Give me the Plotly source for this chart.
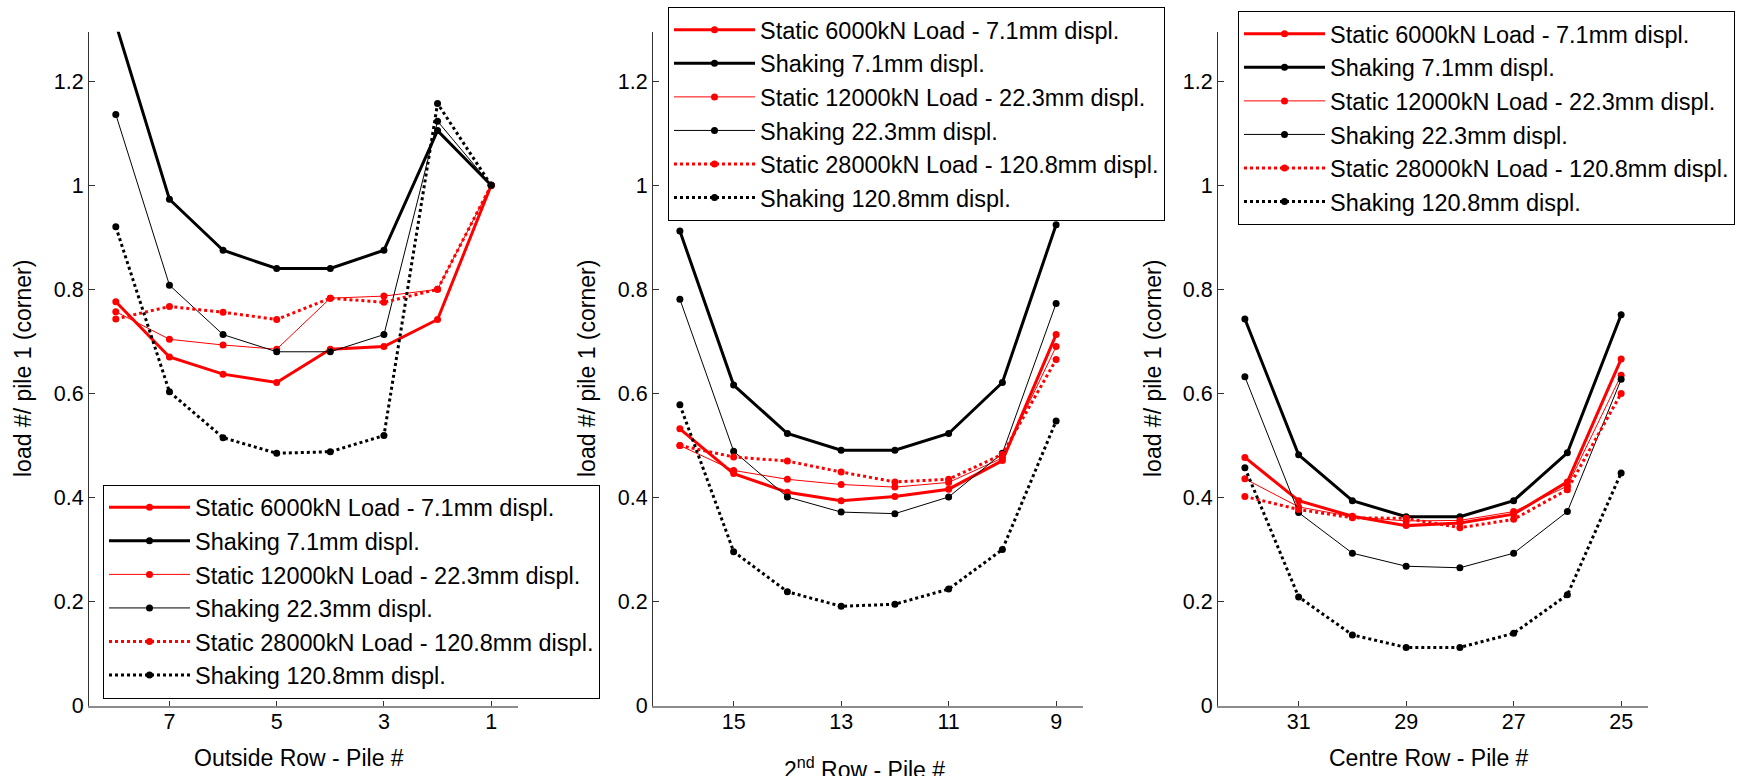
import plotly.graph_objects as go

# ---------------- data ----------------
outside_piles = [8, 7, 6, 5, 4, 3, 2, 1]
second_piles = [16, 15, 14, 13, 12, 11, 10, 9]
centre_piles = [32, 31, 30, 29, 28, 27, 26, 25]

outside_ticks = [7, 5, 3, 1]
second_ticks = [15, 13, 11, 9]
centre_ticks = [31, 29, 27, 25]

y_tickvals = [0, 0.2, 0.4, 0.6, 0.8, 1.0, 1.2]
y_ticktext = ["0", "0.2", "0.4", "0.6", "0.8", "1", "1.2"]

series_names = [
    "Static 6000kN Load - 7.1mm displ.",
    "Shaking 7.1mm displ.",
    "Static 12000kN Load - 22.3mm displ.",
    "Shaking 22.3mm displ.",
    "Static 28000kN Load - 120.8mm displ.",
    "Shaking 120.8mm displ.",
]

# Outside row
outside_static_6000 = [0.776, 0.670, 0.637, 0.621, 0.685, 0.690, 0.742, 1.0]
outside_shaking_7 = [1.31, 0.973, 0.875, 0.840, 0.840, 0.875, 1.105, 1.0]
outside_static_12000 = [0.757, 0.704, 0.693, 0.685, 0.783, 0.787, 0.800, 1.0]
outside_shaking_22 = [1.136, 0.808, 0.713, 0.680, 0.680, 0.713, 1.123, 1.0]
outside_static_28000 = [0.743, 0.767, 0.756, 0.742, 0.783, 0.775, 0.800, 1.0]
outside_shaking_120 = [0.920, 0.603, 0.515, 0.485, 0.488, 0.519, 1.157, 1.0]

# 2nd row
second_static_6000 = [0.532, 0.446, 0.410, 0.394, 0.402, 0.416, 0.471, 0.713]
second_shaking_7 = [0.912, 0.616, 0.523, 0.491, 0.491, 0.523, 0.621, 0.924]
second_static_12000 = [0.500, 0.452, 0.435, 0.425, 0.420, 0.429, 0.476, 0.690]
second_shaking_22 = [0.781, 0.489, 0.401, 0.372, 0.369, 0.401, 0.485, 0.773]
second_static_28000 = [0.500, 0.478, 0.470, 0.449, 0.430, 0.435, 0.483, 0.665]
second_shaking_120 = [0.578, 0.296, 0.219, 0.191, 0.195, 0.224, 0.300, 0.547]

# Centre row
centre_static_6000 = [0.477, 0.394, 0.364, 0.346, 0.351, 0.368, 0.430, 0.666]
centre_shaking_7 = [0.743, 0.482, 0.394, 0.363, 0.363, 0.394, 0.486, 0.751]
centre_static_12000 = [0.436, 0.382, 0.363, 0.355, 0.356, 0.373, 0.422, 0.635]
centre_shaking_22 = [0.632, 0.371, 0.293, 0.268, 0.265, 0.293, 0.373, 0.627]
centre_static_28000 = [0.402, 0.377, 0.361, 0.360, 0.342, 0.358, 0.415, 0.600]
centre_shaking_120 = [0.457, 0.209, 0.136, 0.112, 0.112, 0.139, 0.213, 0.447]

panels = [
    (outside_piles, [outside_static_6000, outside_shaking_7, outside_static_12000,
                     outside_shaking_22, outside_static_28000, outside_shaking_120]),
    (second_piles, [second_static_6000, second_shaking_7, second_static_12000,
                    second_shaking_22, second_static_28000, second_shaking_120]),
    (centre_piles, [centre_static_6000, centre_shaking_7, centre_static_12000,
                    centre_shaking_22, centre_static_28000, centre_shaking_120]),
]

# ---------------- styles ----------------
RED = "#ff0000"
BLACK = "#000000"
styles = [
    dict(color=RED, width=3, dash="solid"),
    dict(color=BLACK, width=3, dash="solid"),
    dict(color=RED, width=1, dash="solid"),
    dict(color=BLACK, width=1, dash="solid"),
    dict(color=RED, width=3, dash="dot"),
    dict(color=BLACK, width=3, dash="dot"),
]

FONT = "Liberation Sans, Arial, sans-serif"
W, H = 1740, 776

fig = go.Figure()
legend_ids = ["legend", "legend2", "legend3"]
for p, (piles, series) in enumerate(panels):
    ax = "" if p == 0 else str(p + 1)
    for s, (vals, st) in enumerate(zip(series, styles)):
        fig.add_trace(go.Scatter(
            x=piles, y=vals, mode="lines+markers", name=series_names[s],
            line=dict(color=st["color"], width=st["width"], dash=st["dash"]),
            marker=dict(size=7, color=st["color"]),
            xaxis="x" + ax, yaxis="y" + ax, legend=legend_ids[p],
            cliponaxis=True,
        ))

# plot-area pixel boxes
x_px = [(89, 518), (653, 1083), (1218, 1648)]
y_top, y_bot = 31.7, 705.7
ranges = [[8.5, 0.5], [16.5, 8.5], [32.5, 24.5]]
xticks = [outside_ticks, second_ticks, centre_ticks]

layout = dict(
    width=W, height=H,
    margin=dict(l=0, r=0, t=0, b=0, autoexpand=False),
    paper_bgcolor="white", plot_bgcolor="white",
    font=dict(family=FONT, size=22, color="black"),
    showlegend=True,
)
for p in range(3):
    ax = "" if p == 0 else str(p + 1)
    layout["xaxis" + ax] = dict(
        domain=[x_px[p][0] / W, x_px[p][1] / W], range=ranges[p],
        anchor="y" + ax, tickmode="array", tickvals=xticks[p],
        ticks="inside", ticklen=5, tickcolor="#333333", tickwidth=1,
        showline=True, linecolor="#8c8c8c", linewidth=2,
        showgrid=False, zeroline=False, automargin=False,
        ticklabelstandoff=-5,
        tickfont=dict(family=FONT, size=21.5, color="black"),
    )
    layout["yaxis" + ax] = dict(
        domain=[1 - y_bot / H, 1 - y_top / H], range=[0, 1.295],
        anchor="x" + ax, tickmode="array", tickvals=y_tickvals, ticktext=y_ticktext,
        ticks="inside", ticklen=6, tickcolor="#333333", tickwidth=1,
        showline=True, linecolor="#333333", linewidth=1,
        showgrid=False, zeroline=False, automargin=False,
        tickfont=dict(family=FONT, size=21.5, color="black"),
    )

legend_pos = [(103, 484.5), (668, 7), (1238, 11)]
for i, lid in enumerate(legend_ids):
    layout[lid] = dict(
        x=legend_pos[i][0] / W, y=1 - legend_pos[i][1] / H,
        xanchor="left", yanchor="top",
        bgcolor="white", bordercolor="black", borderwidth=1,
        font=dict(family=FONT, size=23.5, color="black"),
        itemwidth=81, traceorder="normal",
    )

annotations = []
ylabel_x = [23, 587, 1153]
for xp in ylabel_x:
    annotations.append(dict(
        text="load #/ pile 1 (corner)", textangle=-90,
        x=xp / W, y=1 - 369 / H, xref="paper", yref="paper",
        xanchor="center", yanchor="middle", showarrow=False,
        font=dict(family=FONT, size=23, color="black"),
    ))
xlabels = [("Outside Row - Pile #", 299, 758),
           ("2<sup>nd</sup> Row - Pile #", 864, 768),
           ("Centre Row - Pile #", 1429, 758)]
for txt, xp, yp in xlabels:
    annotations.append(dict(
        text=txt, x=xp / W, y=1 - yp / H, xref="paper", yref="paper",
        xanchor="center", yanchor="middle", showarrow=False,
        font=dict(family=FONT, size=23, color="black"),
    ))
layout["annotations"] = annotations

fig.update_layout(**layout)
fig.write_html(
    "out.html",
    config={"displayModeBar": False},
    post_script="document.body.style.margin='0';document.body.style.overflow='hidden';",
)
